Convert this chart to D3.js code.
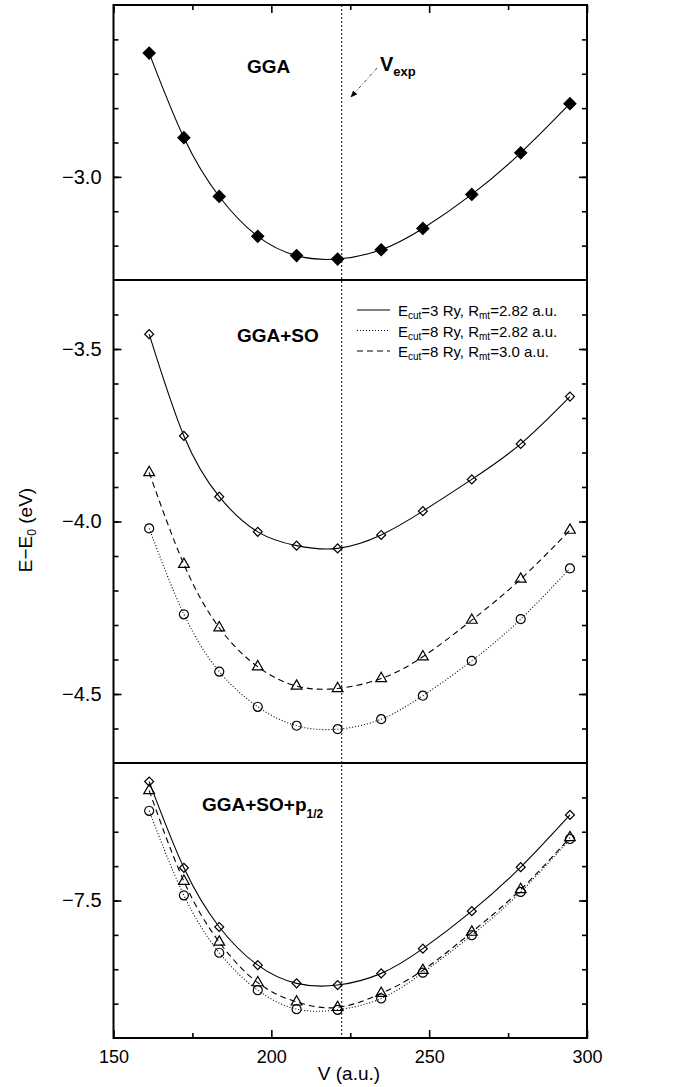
<!DOCTYPE html>
<html>
<head>
<meta charset="utf-8">
<script src="https://cdn.jsdelivr.net/npm/d3@7"></script>
<style>
  body { margin: 0; background: #fff; }
  svg { font-family: "Liberation Sans", Arial, Helvetica, sans-serif; }
</style>
</head>
<body>
<div id="container"></div>
<script>
// volumes (a.u.)
const volumes = [161.3, 172.3, 183.5, 195.7, 208.0, 221.0, 234.8, 248.0, 263.5, 279.0, 294.6];

// GGA
const ggaE = [-2.640, -2.886, -3.057, -3.173, -3.229, -3.239, -3.212, -3.150, -3.051, -2.930, -2.787];

// GGA+SO
const soCut3 = [-3.457, -3.752, -3.928, -4.030, -4.070, -4.078, -4.039, -3.970, -3.878, -3.775, -3.638];
const soCut8 = [-4.020, -4.269, -4.435, -4.537, -4.592, -4.602, -4.573, -4.505, -4.404, -4.283, -4.136];
const soCut8R3 = [-3.858, -4.124, -4.308, -4.421, -4.477, -4.484, -4.455, -4.392, -4.286, -4.167, -4.025];

// GGA+SO+p1/2
const pCut3 = [-7.154, -7.405, -7.577, -7.688, -7.741, -7.746, -7.712, -7.640, -7.531, -7.403, -7.251];
const pCut8 = [-7.239, -7.485, -7.652, -7.761, -7.816, -7.818, -7.785, -7.710, -7.601, -7.475, -7.321];
const pCut8R3 = [-7.180, -7.444, -7.621, -7.739, -7.795, -7.811, -7.770, -7.703, -7.592, -7.468, -7.317];

const vExp = 222.3;

// ticks
const xMajor = [150, 200, 250, 300];
const xMinor = [175, 225, 275];
const topTicks = [-2.6, -2.7, -2.8, -2.9, -3.0, -3.1, -3.2];
const topLabels = [-3.0];
const midTicks = [-3.4, -3.5, -3.6, -3.7, -3.8, -3.9, -4.0, -4.1, -4.2, -4.3, -4.4, -4.5, -4.6];
const midLabels = [-3.5, -4.0, -4.5];
const botTicks = [-7.2, -7.3, -7.4, -7.5, -7.6, -7.7, -7.8];
const botLabels = [-7.5];

const legendItems = [
  {cut: "3", rmt: "2.82", dash: null},
  {cut: "8", rmt: "2.82", dash: "1,2"},
  {cut: "8", rmt: "3.0", dash: "6,4"}
];

const w = 680, h = 1087;
const left = 113.5, right = 587;

const svg = d3.select("#container").append("svg")
  .attr("width", w).attr("height", h);

const x = d3.scaleLinear().domain([150, 300]).range([left, right]);

const panels = [
  {domain: [-3.3, -2.5], range: [280, 5], ticks: topTicks, labels: topLabels},
  {domain: [-4.7, -3.3], range: [763, 280], ticks: midTicks, labels: midLabels},
  {domain: [-7.9, -7.1], range: [1038, 763], ticks: botTicks, labels: botLabels}
];
panels.forEach(p => { p.y = d3.scaleLinear().domain(p.domain).range(p.range); });

const fmt = d3.format(".1f");

// y axes for each panel, ticks inward on both sides
panels.forEach(function(p){
  svg.append("g")
     .attr("transform", "translate(" + left + ",0)")
     .call(d3.axisLeft(p.y).tickValues(p.ticks).tickSize(-5).tickFormat(""))
     .call(g => g.select(".domain").remove());
  svg.append("g")
     .attr("transform", "translate(" + left + ",0)")
     .call(d3.axisLeft(p.y).tickValues(p.labels).tickSize(-8).tickPadding(12).tickFormat(fmt))
     .call(g => g.select(".domain").remove())
     .call(g => g.selectAll("text").style("font-size", "20px").attr("fill", "#000"));
  svg.append("g")
     .attr("transform", "translate(" + right + ",0)")
     .call(d3.axisRight(p.y).tickValues(p.ticks).tickSize(-5).tickFormat(""))
     .call(g => g.select(".domain").remove());
  svg.append("g")
     .attr("transform", "translate(" + right + ",0)")
     .call(d3.axisRight(p.y).tickValues(p.labels).tickSize(-8).tickFormat(""))
     .call(g => g.select(".domain").remove());
});

// x axes, bottom and top
const yBottom = 1038, yTop = 5;
svg.append("g").attr("transform", "translate(0," + yBottom + ")")
   .call(d3.axisBottom(x).tickValues(xMinor).tickSize(-5).tickFormat(""))
   .call(g => g.select(".domain").remove());
svg.append("g").attr("transform", "translate(0," + yBottom + ")")
   .call(d3.axisBottom(x).tickValues(xMajor).tickSize(-8).tickPadding(12).tickFormat(d3.format("d")))
   .call(g => g.select(".domain").remove())
   .call(g => g.selectAll("text").style("font-size", "18px").attr("fill", "#000"));
svg.append("g").attr("transform", "translate(0," + yTop + ")")
   .call(d3.axisTop(x).tickValues(xMinor).tickSize(-5).tickFormat(""))
   .call(g => g.select(".domain").remove());
svg.append("g").attr("transform", "translate(0," + yTop + ")")
   .call(d3.axisTop(x).tickValues(xMajor).tickSize(-8).tickFormat(""))
   .call(g => g.select(".domain").remove());

svg.selectAll(".tick line").attr("stroke", "#000").attr("stroke-width", 1.6);

// frame and panel separators
svg.append("rect")
   .attr("x", left).attr("y", yTop)
   .attr("width", right - left).attr("height", yBottom - yTop)
   .attr("fill", "none").attr("stroke", "#000").attr("stroke-width", 2);
[280, 763].forEach(function(yy){
  svg.append("line").attr("x1", left).attr("x2", right).attr("y1", yy).attr("y2", yy)
     .attr("stroke", "#000").attr("stroke-width", 2);
});

// V_exp dotted line
svg.append("line")
   .attr("x1", x(vExp)).attr("x2", x(vExp)).attr("y1", yTop).attr("y2", yBottom)
   .attr("stroke", "#000").attr("stroke-width", 1).attr("stroke-dasharray", "2,2");

// curves and symbols
function drawSeries(yScale, values, dash, symbolType, size, filled, rotate){
  const pts = volumes.map((v, i) => [v, values[i]]);
  const line = d3.line().x(d => x(d[0])).y(d => yScale(d[1])).curve(d3.curveNatural);
  svg.append("path").datum(pts)
     .attr("d", line).attr("fill", "none").attr("stroke", "#000")
     .attr("stroke-width", 1.1)
     .attr("stroke-dasharray", dash);
  svg.selectAll(null).data(pts).enter().append("path")
     .attr("d", d3.symbol().type(symbolType).size(size))
     .attr("transform", d => "translate(" + x(d[0]) + "," + yScale(d[1]) + ")" + (rotate ? " rotate(45)" : ""))
     .attr("fill", filled ? "#000" : "none")
     .attr("stroke", "#000").attr("stroke-width", 1.2);
}

drawSeries(panels[0].y, ggaE, null, d3.symbolSquare, 72, true, true);

drawSeries(panels[1].y, soCut3, null, d3.symbolSquare, 40, false, true);
drawSeries(panels[1].y, soCut8, "1,2", d3.symbolCircle, 64, false, false);
drawSeries(panels[1].y, soCut8R3, "6,4", d3.symbolTriangle, 50, false, false);

drawSeries(panels[2].y, pCut3, null, d3.symbolSquare, 40, false, true);
drawSeries(panels[2].y, pCut8, "1,2", d3.symbolCircle, 64, false, false);
drawSeries(panels[2].y, pCut8R3, "6,4", d3.symbolTriangle, 50, false, false);

// panel titles
svg.append("text").attr("x", 247).attr("y", 73)
   .style("font-size", "19px").style("font-weight", "bold").text("GGA");
svg.append("text").attr("x", 237).attr("y", 342)
   .style("font-size", "19px").style("font-weight", "bold").text("GGA+SO");
const t3 = svg.append("text").attr("x", 202).attr("y", 811)
   .style("font-size", "19px").style("font-weight", "bold");
t3.append("tspan").text("GGA+SO+p");
t3.append("tspan").attr("dy", 7).style("font-size", "12px").text("1/2");

// V_exp label and arrow
svg.append("defs").append("marker")
   .attr("id", "arrow").attr("viewBox", "0 0 10 10")
   .attr("refX", 9).attr("refY", 5)
   .attr("markerWidth", 7).attr("markerHeight", 7)
   .attr("orient", "auto")
   .append("path").attr("d", "M0,1L10,5L0,9z").attr("fill", "#000");
svg.append("line")
   .attr("x1", 377).attr("y1", 68).attr("x2", 351).attr("y2", 97)
   .attr("stroke", "#444").attr("stroke-width", 1)
   .attr("stroke-dasharray", "3,2,1,2")
   .attr("marker-end", "url(#arrow)");
const vt = svg.append("text").attr("x", 380).attr("y", 71)
   .style("font-size", "20px").style("font-weight", "bold");
vt.append("tspan").text("V");
vt.append("tspan").attr("dy", 5).style("font-size", "13px").text("exp");

// legend
legendItems.forEach(function(d, i){
  const yy = 310 + i * 20.5;
  svg.append("line")
     .attr("x1", 357).attr("x2", 390).attr("y1", yy).attr("y2", yy)
     .attr("stroke", "#000").attr("stroke-width", 1.1)
     .attr("stroke-dasharray", d.dash);
  const t = svg.append("text").attr("x", 398).attr("y", yy + 6)
     .style("font-size", "15px");
  t.append("tspan").text("E");
  t.append("tspan").attr("dy", 3).style("font-size", "10px").text("cut");
  t.append("tspan").attr("dy", -3).text("=" + d.cut + " Ry, R");
  t.append("tspan").attr("dy", 3).style("font-size", "10px").text("mt");
  t.append("tspan").attr("dy", -3).text("=" + d.rmt + " a.u.");
});

// axis labels
const yl = svg.append("text")
   .attr("transform", "translate(32,530) rotate(-90)")
   .attr("text-anchor", "middle")
   .style("font-size", "19px");
yl.append("tspan").text("E\u2212E");
yl.append("tspan").attr("dy", 4).style("font-size", "12px").text("0");
yl.append("tspan").attr("dy", -4).text(" (eV)");

svg.append("text")
   .attr("x", 349).attr("y", 1080)
   .attr("text-anchor", "middle")
   .style("font-size", "19px")
   .text("V (a.u.)");
</script>
</body>
</html>
